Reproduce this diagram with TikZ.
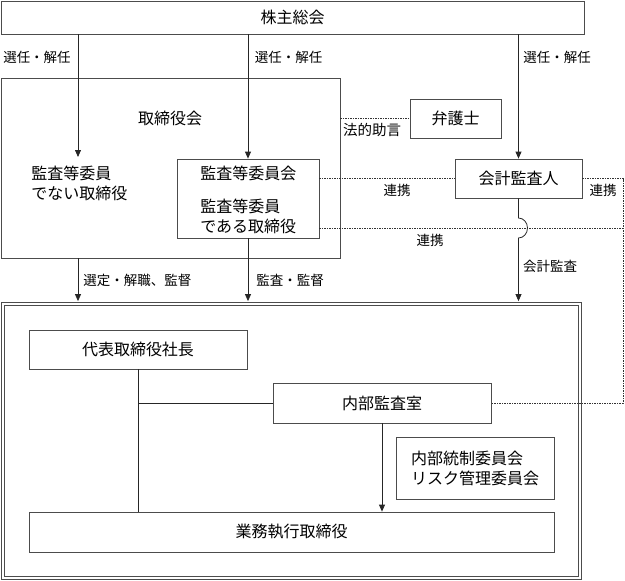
\documentclass[tikz,border=0pt]{standalone}
\usepackage{fontspec}
\setmainfont{Noto Sans CJK JP}
\usetikzlibrary{arrows.meta}

\begin{document}
\begin{tikzpicture}[x=1pt,y=-1pt,line width=0.8pt,
 box/.style={draw=black!70,inner sep=0pt,font=\fontsize{16}{20}\selectfont},
 txt/.style={inner sep=0pt,font=\fontsize{16}{20}\selectfont,align=left},
 lbl/.style={inner sep=0pt,font=\fontsize{13.5}{16}\selectfont},
 arr/.style={draw=black!85,-{Triangle[length=7pt,width=6pt]}},
 renkei/.style={draw=black!80,line width=0.6pt,dash pattern=on 1.5pt off 1pt}]
\useasboundingbox (0,0) rectangle (625,581);
\node[box,minimum width=583,minimum height=33](S)at(292.5,17.5){株主総会};
\node[box,minimum width=339,minimum height=180](T)at(170.5,168){};
\node[txt](Tt)at(170,118){取締役会};
\node[txt,anchor=west](L)at(31,183){監査等委員\\でない取締役};
\node[box,minimum width=142,minimum height=79](I)at(248,198.5){};
\node[txt,anchor=west](I1)at(200,173){監査等委員会};
\node[txt,anchor=west](I2)at(200,216.5){監査等委員\\である取締役};
\node[box,minimum width=91,minimum height=39](B)at(455.5,118.5){弁護士};
\node[box,minimum width=127,minimum height=39](K)at(518.5,178.5){会計監査人};
\node[box,double,double distance=2.6pt,minimum width=577,minimum height=274](G)at(291.5,441){};
\node[box,minimum width=218,minimum height=39](D)at(138,349.5){代表取締役社長};
\node[box,minimum width=218,minimum height=40](N)at(382,403){内部監査室};
\node[box,align=left,minimum width=158,minimum height=62](C)at(475,468){内部統制委員会\\リスク管理委員会};
\node[box,minimum width=525,minimum height=40](E)at(291.5,532){業務執行取締役};
\coordinate(a1)at(78,157);
\coordinate(Rt)at(623,178.5);
\coordinate(Rb)at(623,403);
\coordinate(Jc)at(K.south|-0,228);
\draw[arr](S.south-|a1)--(a1);
\draw[arr](S.south-|I.north)--(I.north);
\draw[arr](S.south-|K.north)--(K.north);
\draw[arr,shorten >=2.5pt](T.south-|a1)--(G.north-|a1);
\draw[arr,shorten >=2.5pt](I.south)--(G.north-|I.south);
\draw[arr,shorten >=2.5pt](K.south)--([yshift=10pt]Jc)arc[start angle=-90,end angle=90,x radius=9,y radius=10]--(G.north-|Jc);
\draw[renkei](T.east|-B.west)--(B.west);
\draw[renkei](I.east|-K.west)--(K.west);
\draw[renkei](K.east)--(Rt)--(Rb)--(N.east);
\draw[renkei](I.east|-Jc)--(Rb|-Jc);
\draw[draw=black!85](D.south)--(E.north-|D.south);
\draw[draw=black!85](D.south|-N.west)--(N.west);
\draw[arr](N.south)--(E.north-|N.south);
\node[lbl](s1)at(37,57){選任・解任};
\node[lbl](s2)at(288.5,57){選任・解任};
\node[lbl](s3)at(557,57){選任・解任};
\node[lbl,font=\fontsize{14.5}{16}\selectfont](h1)at(372,130){法的助言};
\node[lbl](r1)at(397,190){連携};
\node[lbl](r2)at(603,190){連携};
\node[lbl](r3)at(430,240){連携};
\node[lbl](k1)at(550,266){会計監査};
\node[lbl,anchor=west](e1)at(83,280){選定・解職、監督};
\node[lbl,anchor=west](e2)at(256,280){監査・監督};
\end{tikzpicture}
\end{document}
